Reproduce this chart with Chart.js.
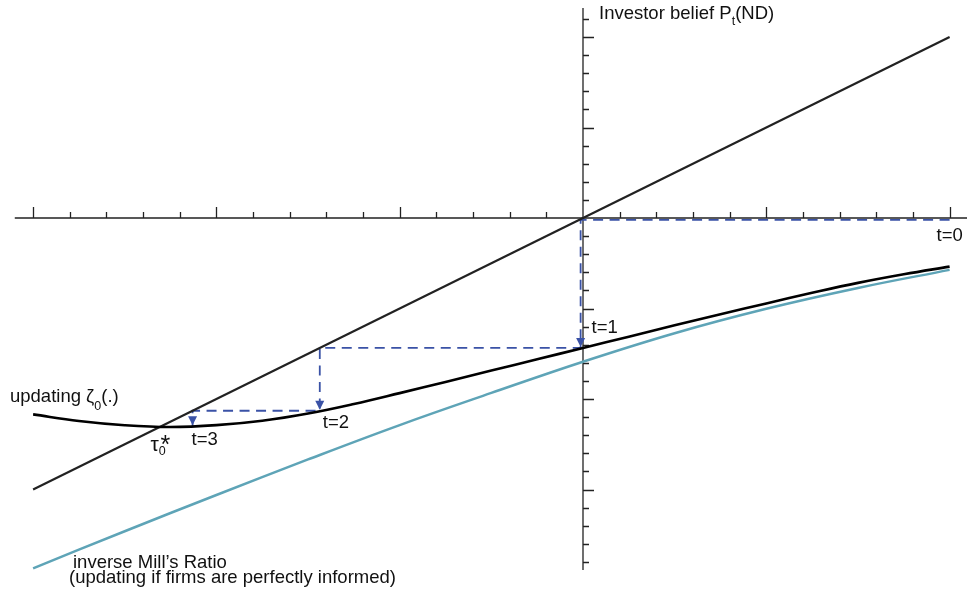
<!DOCTYPE html>
<html>
<head>
<meta charset="utf-8">
<script src="https://cdn.jsdelivr.net/npm/chart.js@4"></script>
<style>
  body { margin: 0; background: #fff; }
  #wrap { width: 967px; height: 594px; }
</style>
</head>
<body>
<div id="wrap"><canvas id="chart" width="967" height="594"></canvas></div>
<script>
// 45° line: investor belief P_t(ND) = x
const beliefX = [-3, 2];
const beliefY = [-3, 2];

// updating curve zeta_0(.)
const updX = [-3, -2.75, -2.5, -2.25, -2, -1.75, -1.5, -1.25, -1, -0.75, -0.5, -0.25, 0, 0.25, 0.5, 0.75, 1, 1.25, 1.5, 1.75, 2];
const updY = [-2.17, -2.243, -2.29, -2.31, -2.289, -2.24, -2.16, -2.055, -1.935, -1.811, -1.686, -1.561, -1.436, -1.311, -1.186, -1.064, -0.944, -0.827, -0.717, -0.622, -0.537];

// inverse Mill's ratio (perfectly informed firms)
const millsX = [-3, -2.5, -2, -1.5, -1, -0.5, 0, 0.5, 1, 1.5, 2];
const millsY = [-3.871, -3.461, -3.061, -2.668, -2.288, -1.933, -1.588, -1.273, -1.003, -0.773, -0.573];

// cobweb steps t=0 -> t=3
const stepX = [2, -0.013, -0.013, -1.436, -1.436, -2.13, -2.13];
const stepY = [-0.02, -0.02, -1.436, -1.436, -2.13, -2.13, -2.3];
const stepLabels = ['t=0', 't=1', 't=2', 't=3'];

// fixed point tau_0*
const fixX = -2.3;
const fixY = -2.3;

const FONT = "'Liberation Sans', Arial, sans-serif";
const BLUE = '#3a52a6';
const FS = 18.5;

function pts(xs, ys) {
    return xs.map((x, i) => ({ x: x, y: ys[i] }));
}

// text with sub/superscripts: parts = [[text, size, dy], ...]
function richText(ctx, x, y, parts) {
    let cx = x;
    parts.forEach(p => {
        ctx.font = p[1] + 'px ' + FONT;
        ctx.fillText(p[0], cx, y + (p[2] || 0));
        cx += ctx.measureText(p[0]).width;
    });
}

const axesPlugin = {
    id: 'axesAndLabels',
    beforeDatasetsDraw(chart) {
        const ctx = chart.ctx;
        const xs = chart.scales.x, ys = chart.scales.y;
        const ox = xs.getPixelForValue(0), oy = ys.getPixelForValue(0);
        ctx.save();
        ctx.strokeStyle = '#222';
        ctx.lineWidth = 1.3;
        ctx.beginPath();
        // x axis
        ctx.moveTo(xs.getPixelForValue(-3.1), oy);
        ctx.lineTo(chart.width, oy);
        // y axis
        ctx.moveTo(ox, ys.getPixelForValue(2.32));
        ctx.lineTo(ox, ys.getPixelForValue(-3.89));
        // x ticks (up), every 0.2, major at integers
        for (let i = -15; i <= 10; i++) {
            if (i === 0) continue;
            const px = Math.round(xs.getPixelForValue(i / 5)) + 0.5;
            const len = i % 5 === 0 ? 11 : 6;
            ctx.moveTo(px, oy);
            ctx.lineTo(px, oy - len);
        }
        // y ticks (right)
        for (let i = -19; i <= 11; i++) {
            if (i === 0) continue;
            const py = Math.round(ys.getPixelForValue(i / 5)) + 0.5;
            const len = i % 5 === 0 ? 11 : 6;
            ctx.moveTo(ox, py);
            ctx.lineTo(ox + len, py);
        }
        ctx.stroke();
        ctx.restore();
    },
    afterDatasetsDraw(chart) {
        const ctx = chart.ctx;
        const xs = chart.scales.x, ys = chart.scales.y;
        const ox = xs.getPixelForValue(0);
        ctx.save();
        // arrow heads at the end of each vertical step
        ctx.fillStyle = BLUE;
        for (let i = 1; i < stepX.length; i++) {
            if (stepX[i] !== stepX[i - 1]) continue;
            const px = xs.getPixelForValue(stepX[i]);
            const py = ys.getPixelForValue(stepY[i]) - 1;
            ctx.beginPath();
            ctx.moveTo(px, py);
            ctx.lineTo(px - 4.5, py - 9);
            ctx.lineTo(px + 4.5, py - 9);
            ctx.closePath();
            ctx.fill();
        }

        ctx.fillStyle = '#111';
        ctx.textBaseline = 'alphabetic';
        richText(ctx, ox + 16, 19, [['Investor belief P', FS], ['t', 12.5, 6], ['(ND)', FS]]);

        // step labels
        const offs = [[-13, 21], [11, -15], [3, 17], [-1, 19]];
        const anchors = [[stepX[0], stepY[0]], [stepX[2], stepY[2]], [stepX[4], stepY[4]], [stepX[6], stepY[6]]];
        stepLabels.forEach((lab, k) => {
            const px = xs.getPixelForValue(anchors[k][0]) + offs[k][0];
            const py = ys.getPixelForValue(anchors[k][1]) + offs[k][1];
            richText(ctx, px, py, [[lab, FS]]);
        });

        // tau_0*
        const fx = xs.getPixelForValue(fixX), fy = ys.getPixelForValue(fixY);
        richText(ctx, fx - 11, fy + 25, [['τ', 21], ['0', 12.5, 4]]);
        ctx.font = '25px ' + FONT;
        ctx.fillText('*', fx - 1, fy + 27);

        richText(ctx, 10, 402, [['updating ', FS], ['ζ', FS], ['0', 12.5, 8], ['(.)', FS]]);

        richText(ctx, 73, 568, [['inverse Mill\u2019s Ratio', FS]]);
        richText(ctx, 69, 583, [['(updating if firms are perfectly informed)', FS]]);
        ctx.restore();
    }
};

new Chart(document.getElementById('chart'), {
    type: 'scatter',
    data: {
        datasets: [
            {
                label: 'updating',
                data: pts(updX, updY),
                showLine: true,
                borderColor: '#000',
                borderWidth: 2.6,
                tension: 0.4,
                pointRadius: 0
            },
            {
                label: 'inverse Mill\u2019s Ratio',
                data: pts(millsX, millsY),
                showLine: true,
                borderColor: '#5ea4b7',
                borderWidth: 2.5,
                tension: 0.4,
                pointRadius: 0
            },
            {
                label: 'belief',
                data: pts(beliefX, beliefY),
                showLine: true,
                borderColor: '#222',
                borderWidth: 2.2,
                pointRadius: 0
            },
            {
                label: 'steps',
                data: pts(stepX, stepY),
                showLine: true,
                borderColor: BLUE,
                borderWidth: 1.8,
                borderDash: [10, 6.5],
                tension: 0,
                pointRadius: 0
            }
        ]
    },
    options: {
        responsive: false,
        animation: false,
        layout: { padding: 0 },
        plugins: {
            legend: { display: false },
            tooltip: { enabled: false }
        },
        scales: {
            x: { type: 'linear', min: -583 / 183.3, max: 384 / 183.3, display: false },
            y: { type: 'linear', min: -376 / 90.5, max: 218 / 90.5, display: false }
        }
    },
    plugins: [axesPlugin]
});
</script>
</body>
</html>
